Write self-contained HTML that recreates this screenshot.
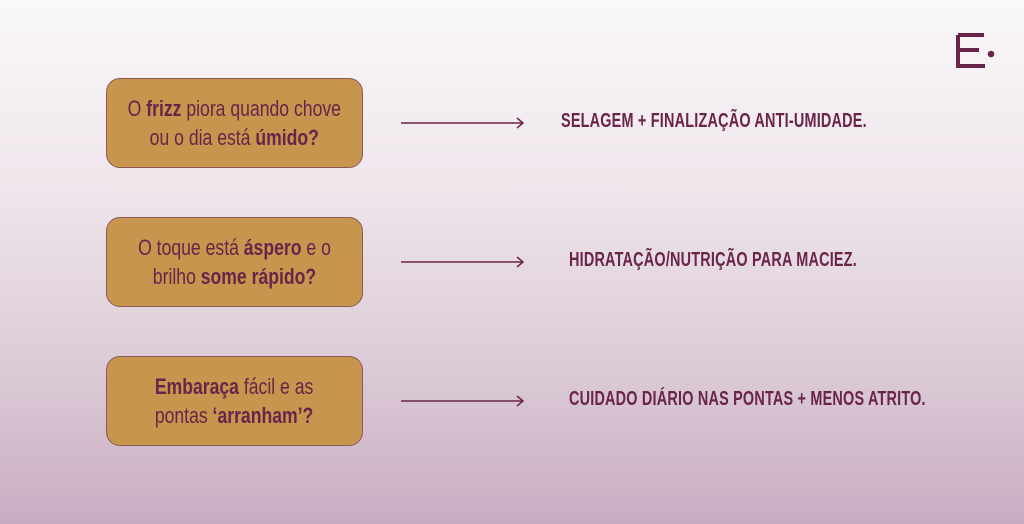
<!DOCTYPE html>
<html><head><meta charset="utf-8"><style>
body{margin:0;width:1024px;height:524px;overflow:hidden;background:linear-gradient(180deg,#faf8f9 0%,#efe6ec 35%,#dccbd6 70%,#c8acc2 100%);font-family:"Liberation Sans",sans-serif;position:relative;color:#6a2449}
.box{position:absolute;left:106px;width:257px;height:90px;background:#c8954f;border:1px solid #8a5a55;border-radius:14px;box-sizing:border-box;display:flex;align-items:center;justify-content:center}
.box div{transform:scaleX(0.8);white-space:nowrap;text-align:center;font-size:22px;line-height:29px;color:#6a2449}
.box b{font-weight:bold}
.arr{position:absolute;left:401px;width:124px}
.t{position:absolute;font-weight:bold;font-size:20px;transform:scaleX(0.72);transform-origin:left center;white-space:nowrap;letter-spacing:0.3px}
</style></head><body>
<div class="box" style="top:78px"><div>O <b>frizz</b> piora quando chove<br>ou o dia está <b>úmido?</b></div></div>
<div class="box" style="top:217px"><div>O toque está <b>áspero</b> e o<br>brilho <b>some rápido?</b></div></div>
<div class="box" style="top:356px"><div><b>Embaraça</b> fácil e as<br>pontas <b>‘arranham’?</b></div></div>
<svg class="arr" style="top:116px" height="14" width="124"><line x1="0" y1="7" x2="122" y2="7" stroke="#6a2449" stroke-width="1.5"/><polyline points="116,2 122,7 116,12" fill="none" stroke="#6a2449" stroke-width="1.5"/></svg>
<svg class="arr" style="top:255px" height="14" width="124"><line x1="0" y1="7" x2="122" y2="7" stroke="#6a2449" stroke-width="1.5"/><polyline points="116,2 122,7 116,12" fill="none" stroke="#6a2449" stroke-width="1.5"/></svg>
<svg class="arr" style="top:394px" height="14" width="124"><line x1="0" y1="7" x2="122" y2="7" stroke="#6a2449" stroke-width="1.5"/><polyline points="116,2 122,7 116,12" fill="none" stroke="#6a2449" stroke-width="1.5"/></svg>
<div class="t" style="left:561px;top:110px">SELAGEM + FINALIZAÇÃO ANTI-UMIDADE.</div>
<div class="t" style="left:569px;top:249px">HIDRATAÇÃO/NUTRIÇÃO PARA MACIEZ.</div>
<div class="t" style="left:569px;top:388px">CUIDADO DIÁRIO NAS PONTAS + MENOS ATRITO.</div>
<svg style="position:absolute;left:954px;top:33px" width="42" height="36"><path d="M4 2H30M4 2V33H31M4 17H25" fill="none" stroke="#6a2449" stroke-width="4"/><circle cx="37" cy="21" r="3.3" fill="#6a2449"/></svg>
</body></html>
